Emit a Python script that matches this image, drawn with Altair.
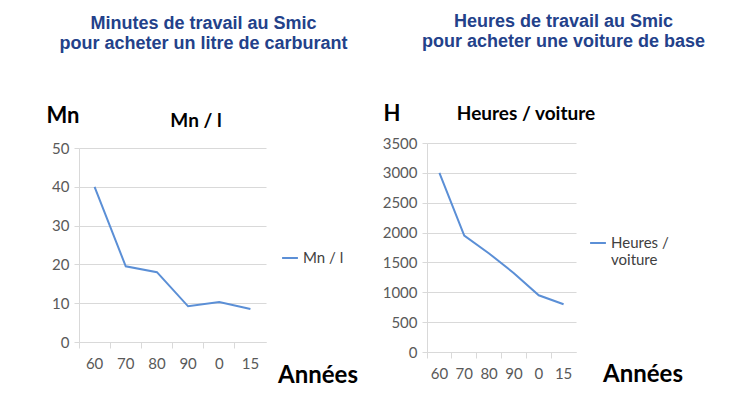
import altair as alt
import pandas as pd

# ---- data ----
years = ["60", "70", "80", "90", "0", "15"]
minutes_par_litre = [40, 19.5, 18, 9.2, 10.3, 8.5]
heures_par_voiture = [3000, 1950, 1650, 1320, 950, 800]
serie_gauche = "Mn / l"
serie_droite = "Heures / voiture"
titre_gauche = ["Minutes de travail au Smic", "pour acheter un litre de carburant"]
titre_droite = ["Heures de travail au Smic", "pour acheter une voiture de base"]

LINE = "#5b8fd6"
GRID = "#d9d9d9"
LABEL = "#595959"
BLUE = "#23418a"
FONT = "Lato"
TFONT = "Liberation Sans"


def text_layer(txt, x, y, size, weight="bold", color="black"):
    return alt.Chart(pd.DataFrame({"t": [txt]})).mark_text(
        font=FONT, fontSize=size, fontWeight=weight, color=color,
        align="center", baseline="middle"
    ).encode(x=alt.value(x), y=alt.value(y), text="t:N")


def panel(values, series, width, height, top, ymax, ystep, title, dx, offset,
          unit, unit_xy, name_xy, annees_xy, legend_xy, label_expr):
    df = pd.DataFrame({"annee": years, "val": values, "serie": [series] * len(years)})
    line = alt.Chart(df).mark_line(strokeWidth=2).encode(
        x=alt.X("annee:N", sort=years, bandPosition=0.5,
                scale=alt.Scale(type="band", paddingInner=0, paddingOuter=0),
                axis=alt.Axis(title=None, labelAngle=0, labelFont=FONT, labelFontSize=15,
                              labelColor=LABEL, domainColor=GRID, tickColor=GRID,
                              tickSize=6, bandPosition=0, labelPadding=8, grid=False)),
        y=alt.Y("val:Q", scale=alt.Scale(domain=[0, ymax], nice=False,
                                         range=[height + top, top]),
                axis=alt.Axis(title=None, values=list(range(0, ymax + 1, ystep)),
                              format="d",
                              labelFont=FONT, labelFontSize=15, labelColor=LABEL,
                              domainColor=GRID, tickColor=GRID, tickSize=5,
                              gridColor=GRID, labelPadding=5)),
        color=alt.Color("serie:N", scale=alt.Scale(range=[LINE]),
                        legend=alt.Legend(title=None, orient="none",
                                          legendX=legend_xy[0], legendY=legend_xy[1] + top,
                                          symbolType="stroke", symbolStrokeWidth=2,
                                          symbolSize=250, labelFont=FONT,
                                          labelFontSize=15, labelColor="#404040",
                                          labelExpr=label_expr, labelLimit=300)),
    )
    layers = [
        line,
        text_layer(unit, unit_xy[0], unit_xy[1] + top, 22),
        text_layer(series, name_xy[0], name_xy[1] + top, 19),
        text_layer("Années", annees_xy[0], annees_xy[1] + top, 24),
    ]
    return alt.layer(*layers).properties(
        width=width, height=height + top,
        title=alt.Title(text=title, font=TFONT, fontSize=18, fontWeight="bold",
                        color=BLUE, anchor="middle", frame="group", dx=dx,
                        offset=offset, lineHeight=20),
    )


left = panel(minutes_par_litre, serie_gauche, 187, 194, 5, 50, 10, titre_gauche, 31, 52,
             "Mn", (-16, -32), (117, -27), (239, 228), (202, 101), "datum.label")
right = panel(heures_par_voiture, serie_droite, 149, 209, 0, 3500, 500, titre_droite, 62, 52,
              "H", (-35, -29), (99, -29), (216, 232), (162, 91),
              "datum.label == 'Heures / voiture' ? ['Heures /', 'voiture'] : datum.label")

chart = alt.hconcat(left, right, spacing=24).resolve_scale(
    color="independent"
).properties(
    padding={"left": 38, "top": 5, "right": 0, "bottom": 0},
    background="white",
).configure_view(stroke=None)

chart.save("out.html", embed_options={"renderer": "svg", "actions": False})
